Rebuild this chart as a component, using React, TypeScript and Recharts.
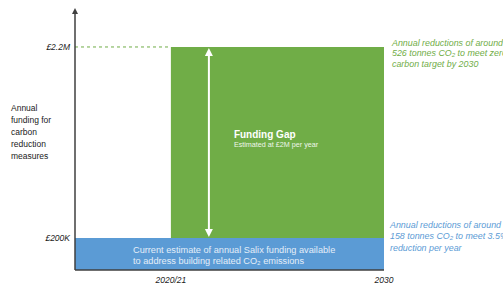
import { ComposedChart, ReferenceArea, ReferenceLine, XAxis, YAxis } from "recharts";

// financial years on the x axis (2020/21 drawn at 2020)
const PERIOD_LABELS = ["2020/21", "2030"];
const PERIOD_YEARS = [2020, 2030];
const X_DOMAIN = [2015.5, 2030];

// funding levels (£), not drawn to a linear scale in the original
const FUNDING_TICKS = [200000, 2200000];
const FUNDING_LABELS = ["£200K", "£2.2M"];
const Y_DOMAIN = [133800, 3413000];
const CURRENT_FUNDING = 200000;
const REQUIRED_FUNDING = 2200000;

const Y_TITLE = ["Annual", "funding for", "carbon", "reduction", "measures"];
const GAP_TITLE = "Funding  Gap";
const GAP_SUBTITLE = "Estimated at £2M per year";
const SALIX_TEXT = [
  "Current estimate of annual Salix funding available",
  "to address building related CO₂ emissions",
];
const ZERO_NOTE = ["Annual reductions of around", "526 tonnes CO₂ to meet  zero", "carbon target by 2030"];
const PCT_NOTE = ["Annual reductions of around", "158 tonnes CO₂ to meet  3.5%", "reduction per year"];

const GREEN = "#70ad47";
const BLUE = "#5b9bd5";
const AXIS = "#3f3f3f";
const FONT = "'Liberation Sans', Arial, sans-serif";

const data = PERIOD_YEARS.map((year) => ({ year }));

function labelFor(year: number) {
  const i = PERIOD_YEARS.indexOf(year);
  return i >= 0 ? PERIOD_LABELS[i] : "";
}

function fundingLabel(v: number) {
  const i = FUNDING_TICKS.indexOf(v);
  return i >= 0 ? FUNDING_LABELS[i] : "";
}

const AxisArrow = (props: any) => {
  const { x1, y1, x2, y2 } = props;
  return (
    <g>
      <line x1={x1} y1={y1} x2={x2} y2={y2 - 2} stroke={AXIS} strokeWidth={1.5} />
      <polygon points={`${x2 - 3},${y2 + 2} ${x2 + 3},${y2 + 2} ${x2},${y2 - 4}`} fill={AXIS} />
    </g>
  );
};

const GapContent = ({ viewBox }: any) => {
  const { x, y, width, height } = viewBox;
  const ax = x + 38;
  return (
    <g fontFamily={FONT} style={{ whiteSpace: "pre" }}>
      <line x1={ax} y1={y + 7} x2={ax} y2={y + height - 7} stroke="#fff" strokeWidth={2} />
      <polygon points={`${ax - 4},${y + 9} ${ax + 4},${y + 9} ${ax},${y + 1}`} fill="#fff" />
      <polygon
        points={`${ax - 4},${y + height - 9} ${ax + 4},${y + height - 9} ${ax},${y + height - 1}`}
        fill="#fff"
      />
      <text x={x + 63} y={y + 91} fill="#fff" fontSize={10} fontWeight="bold">
        {GAP_TITLE}
      </text>
      <text x={x + 63} y={y + 100.5} fill="#eef6ea" fontSize={7.2}>
        {GAP_SUBTITLE}
      </text>
      <g fontStyle="italic" fontSize={8.9} fill={GREEN}>
        {ZERO_NOTE.map((line, i) => (
          <text key={i} x={x + width + 8} y={y - 1 + i * 10.5}>
            {line}
          </text>
        ))}
      </g>
    </g>
  );
};

const SalixContent = ({ viewBox }: any) => {
  const { x, y, width } = viewBox;
  return (
    <g fontFamily={FONT} style={{ whiteSpace: "pre" }}>
      {SALIX_TEXT.map((line, i) => (
        <text key={i} x={x + 58} y={y + 15} dy={i * 11.5} fill="#e4eef9" fontSize={9.2}>
          {line}
        </text>
      ))}
      <g fontStyle="italic" fontSize={8.9} fill={BLUE}>
        {PCT_NOTE.map((line, i) => (
          <text key={i} x={x + width + 6} y={y - 10 + i * 11.5}>
            {line}
          </text>
        ))}
      </g>
    </g>
  );
};

const YTitle = () => (
  <text fontFamily={FONT} fontSize={8.5} fill="#222">
    {Y_TITLE.map((line, i) => (
      <tspan key={i} x={11} y={111 + i * 12}>
        {line}
      </tspan>
    ))}
  </text>
);

export default function App() {
  return (
    <div style={{ position: "absolute", left: 0, top: 0, background: "#fff" }}>
      <ComposedChart width={503} height={289} data={data} margin={{ top: 12, right: 119, bottom: 0, left: 0 }}>
        <XAxis
          dataKey="year"
          type="number"
          domain={X_DOMAIN}
          ticks={PERIOD_YEARS}
          tickFormatter={labelFor}
          allowDataOverflow
          height={19}
          tickLine={false}
          tickSize={0}
          tickMargin={7}
          axisLine={{ stroke: AXIS, strokeWidth: 1.5 }}
          tick={{ fontSize: 8.5, fontStyle: "italic", fill: "#222", fontFamily: FONT }}
        />
        <YAxis
          type="number"
          scale="log"
          domain={Y_DOMAIN}
          ticks={FUNDING_TICKS}
          tickFormatter={fundingLabel}
          allowDataOverflow
          width={75}
          axisLine={false}
          tickLine={false}
          tickSize={0}
          tickMargin={5}
          tick={{ fontSize: 8.5, fontStyle: "italic", fill: "#222", fontFamily: FONT }}
          label={{ content: YTitle }}
        />
        <ReferenceArea
          x1={X_DOMAIN[0]}
          x2={PERIOD_YEARS[1]}
          y1={Y_DOMAIN[0]}
          y2={CURRENT_FUNDING}
          fill={BLUE}
          fillOpacity={1}
          stroke="none"
          ifOverflow="visible"
          label={{ content: SalixContent }}
        />
        <ReferenceArea
          x1={PERIOD_YEARS[0]}
          x2={PERIOD_YEARS[1]}
          y1={CURRENT_FUNDING}
          y2={REQUIRED_FUNDING}
          fill={GREEN}
          fillOpacity={1}
          stroke="none"
          ifOverflow="visible"
          label={{ content: GapContent }}
        />
        <ReferenceLine
          segment={[
            { x: X_DOMAIN[0], y: REQUIRED_FUNDING },
            { x: PERIOD_YEARS[0], y: REQUIRED_FUNDING },
          ]}
          stroke={GREEN}
          strokeDasharray="3 3"
          ifOverflow="visible"
        />
        <ReferenceLine
          segment={[
            { x: X_DOMAIN[0], y: Y_DOMAIN[0] },
            { x: X_DOMAIN[0], y: Y_DOMAIN[1] },
          ]}
          ifOverflow="visible"
          shape={AxisArrow}
        />
      </ComposedChart>
    </div>
  );
}
